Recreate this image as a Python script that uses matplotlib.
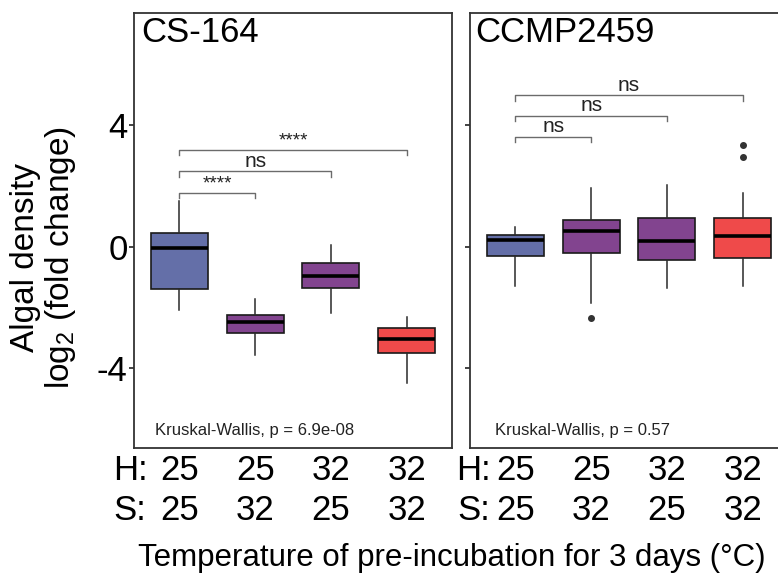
import matplotlib
matplotlib.use("Agg")
import matplotlib.pyplot as plt

plt.rcParams['font.family'] = ['Liberation Sans', 'DejaVu Sans']
plt.rcParams['mathtext.default'] = 'regular'

strains = ["CS-164", "CCMP2459"]
heat_temp = [25, 25, 32, 32]
stress_temp = [25, 32, 25, 32]
box_colors = ["#646fa8", "#82448f", "#82448f", "#ef4a4a"]

# box stats: lower whisker, q1, median, q3, upper whisker
cs164_whislo = [-2.09, -3.56, -2.17, -4.49]
cs164_q1 = [-1.39, -2.83, -1.37, -3.49]
cs164_med = [-0.04, -2.48, -0.95, -3.02]
cs164_q3 = [0.44, -2.25, -0.53, -2.67]
cs164_whishi = [1.49, -1.71, 0.07, -2.32]
cs164_fliers = [[], [], [], []]

ccmp_whislo = [-1.30, -1.85, -1.37, -1.30]
ccmp_q1 = [-0.32, -0.22, -0.45, -0.36]
ccmp_med = [0.21, 0.53, 0.20, 0.37]
ccmp_q3 = [0.39, 0.89, 0.94, 0.94]
ccmp_whishi = [0.65, 1.92, 2.03, 1.76]
ccmp_fliers = [[], [-2.36], [], [3.34, 2.96]]

# pairwise comparisons against the first group
cs164_pairs = [(1, 2), (1, 3), (1, 4)]
cs164_bracket_y = [1.78, 2.48, 3.18]
cs164_signif = ["****", "ns", "****"]
ccmp_pairs = [(1, 2), (1, 3), (1, 4)]
ccmp_bracket_y = [3.62, 4.30, 4.98]
ccmp_signif = ["ns", "ns", "ns"]

kw_text = ["Kruskal-Wallis, p = 6.9e-08", "Kruskal-Wallis, p = 0.57"]

W, H = 778, 577
fig = plt.figure(figsize=(W / 100, H / 100), dpi=100)

panels = [
    (cs164_whislo, cs164_q1, cs164_med, cs164_q3, cs164_whishi, cs164_fliers,
     cs164_pairs, cs164_bracket_y, cs164_signif),
    (ccmp_whislo, ccmp_q1, ccmp_med, ccmp_q3, ccmp_whishi, ccmp_fliers,
     ccmp_pairs, ccmp_bracket_y, ccmp_signif),
]
lefts = [134, 470]
title_x = [0.022, 0.016]
kw_x = [0.066, 0.079]
hs_x = [0.35, 0.45]

for i, (lo, q1, med, q3, hi, fl, pairs, by, sig) in enumerate(panels):
    ax = fig.add_axes([lefts[i] / W, (H - 448.3) / H, 318 / W, 435 / H])
    stats = []
    for k in range(4):
        stats.append(dict(whislo=lo[k], q1=q1[k], med=med[k], q3=q3[k],
                          whishi=hi[k], fliers=fl[k]))
    bp = ax.bxp(stats, positions=[1, 2, 3, 4], widths=0.75, patch_artist=True,
                showcaps=False,
                boxprops=dict(edgecolor="#1a1a1a", linewidth=1.2),
                medianprops=dict(color="black", linewidth=2.6, solid_capstyle="butt"),
                whiskerprops=dict(color="#2a2a2a", linewidth=1.1),
                flierprops=dict(marker="o", markersize=4, markerfacecolor="#333333",
                                markeredgecolor="#333333"))
    for patch, c in zip(bp["boxes"], box_colors):
        patch.set_facecolor(c)

    tip = 0.17
    for (a, b), y, s in zip(pairs, by, sig):
        ax.plot([a, a, b, b], [y - tip, y, y, y - tip], color="#6b6b6b", lw=1.0)
        fs = 13.5 if s.startswith("*") else 15
        ax.text((a + b) / 2, y + 0.15, s, ha="center", va="baseline", fontsize=fs,
                color="#222222")

    ax.set_xlim(0.4, 4.6)
    ax.set_ylim(-6.63, 7.68)
    ax.set_yticks([-4, 0, 4])
    if i == 0:
        ax.set_yticklabels(["-4", "0", "4"], fontsize=25)
    else:
        ax.set_yticklabels([])
    ax.tick_params(axis="y", length=3.5, width=1.2, pad=1, color="#222222")
    ax.set_xticks([])
    for sp in ax.spines.values():
        sp.set_linewidth(1.3)
        sp.set_color("#333333")

    ax.text(title_x[i], 0.9347, strains[i], transform=ax.transAxes, fontsize=25,
            ha="left", va="baseline")
    ax.text(kw_x[i], 0.0306, kw_text[i], transform=ax.transAxes, fontsize=12,
            ha="left", va="baseline", color="#222222")

    trans = ax.get_xaxis_transform()
    for k in range(4):
        ax.text(k + 1, -0.05, str(heat_temp[k]), transform=trans, fontsize=25,
                ha="center", va="center", clip_on=False)
        ax.text(k + 1, -0.142, str(stress_temp[k]), transform=trans, fontsize=25,
                ha="center", va="center", clip_on=False)
    ax.text(hs_x[i], -0.05, "H:", transform=trans, fontsize=25, ha="center",
            va="center", clip_on=False)
    ax.text(hs_x[i], -0.142, "S:", transform=trans, fontsize=25, ha="center",
            va="center", clip_on=False)

fig.text(452 / W, (H - 558) / H, "Temperature of pre-incubation for 3 days (\u00b0C)",
         fontsize=22.5, ha="center", va="center")
fig.text(44 / W, (H - 258) / H, "Algal density\nlog$_2$ (fold change)", rotation=90,
         fontsize=24, ha="center", va="center", multialignment="center",
         linespacing=1.05)

fig.savefig("out.png", dpi=100)
